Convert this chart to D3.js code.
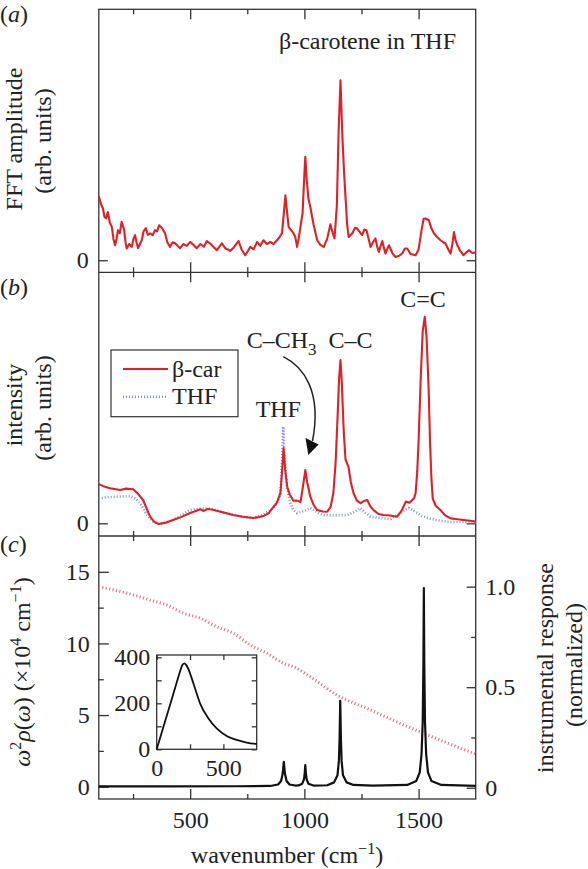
<!DOCTYPE html>
<html><head><meta charset="utf-8">
<script src="https://cdn.jsdelivr.net/npm/d3@7"></script>
<style>html,body{margin:0;padding:0;background:#fff;} svg{display:block;}</style>
</head><body><svg id="c" width="588" height="869"></svg>
<script>
// ---------- DATA ----------
const xMajorTicks = [500, 1000, 1500];
const xMinorTicks = [250, 750, 1250];
// (a) FFT amplitude [wavenumber, amplitude]
const fftAmplitude = [[100,0.356],[110,0.31],[118,0.289],[125,0.24],[132,0.233],[140,0.267],[148,0.21],[157,0.185],[164,0.12],[171,0.083],[178,0.12],[184,0.167],[192,0.15],[200,0.213],[206,0.19],[211,0.167],[217,0.1],[222,0.065],[233,0.09],[244,0.074],[252,0.12],[259,0.139],[265,0.1],[272,0.067],[280,0.09],[288,0.111],[296,0.16],[306,0.178],[315,0.14],[325,0.15],[336,0.14],[346,0.167],[355,0.16],[364,0.194],[376,0.18],[390,0.15],[400,0.1],[412,0.074],[423,0.1],[434,0.094],[445,0.08],[456,0.067],[470,0.09],[485,0.08],[500,0.102],[515,0.085],[529,0.067],[545,0.09],[560,0.075],[573,0.107],[590,0.09],[605,0.07],[617,0.056],[628,0.075],[639,0.094],[655,0.065],[665,0.06],[675,0.052],[690,0.07],[712,0.107],[725,0.06],[741,0.028],[752,0.05],[763,0.074],[778,0.06],[793,0.102],[807,0.08],[821,0.111],[836,0.09],[851,0.102],[865,0.09],[880,0.111],[892,0.13],[902,0.15],[910,0.26],[917,0.361],[924,0.27],[931,0.185],[940,0.17],[952,0.15],[960,0.13],[968,0.074],[975,0.12],[982,0.178],[992,0.26],[1000,0.48],[1004,0.574],[1010,0.45],[1018,0.34],[1026,0.296],[1040,0.2],[1056,0.111],[1070,0.085],[1085,0.074],[1100,0.12],[1114,0.2],[1122,0.16],[1132,0.121],[1142,0.3],[1150,0.72],[1158,1.0],[1166,0.7],[1174,0.48],[1180,0.352],[1187,0.2],[1194,0.129],[1210,0.15],[1222,0.18],[1231,0.176],[1240,0.16],[1253,0.139],[1262,0.17],[1272,0.167],[1281,0.12],[1290,0.074],[1300,0.1],[1311,0.121],[1318,0.08],[1326,0.046],[1334,0.08],[1341,0.107],[1348,0.07],[1355,0.037],[1362,0.06],[1370,0.083],[1385,0.04],[1399,0.018],[1415,0.025],[1430,0.04],[1440,0.065],[1450,0.065],[1465,0.035],[1487,0.028],[1500,0.06],[1512,0.16],[1522,0.23],[1530,0.232],[1545,0.222],[1555,0.18],[1567,0.15],[1580,0.13],[1596,0.111],[1608,0.1],[1618,0.093],[1630,0.06],[1640,0.037],[1648,0.09],[1655,0.157],[1662,0.11],[1670,0.083],[1683,0.05],[1696,0.028],[1710,0.045],[1721,0.056],[1735,0.04],[1750,0.043]];
// (b) Raman intensity of beta-carotene
const betaCar = [[100,0.19],[120,0.18],[149,0.17],[175,0.165],[193,0.161],[220,0.168],[250,0.165],[270,0.145],[294,0.113],[310,0.07],[325,0.032],[342,0.008],[360,-0.003],[390,0.002],[425,0.016],[460,0.03],[500,0.05],[522,0.058],[544,0.068],[560,0.06],[575,0.069],[600,0.066],[620,0.06],[655,0.05],[689,0.04],[730,0.032],[776,0.026],[800,0.03],[820,0.035],[845,0.05],[864,0.079],[880,0.1],[895,0.147],[903,0.26],[909,0.364],[916,0.26],[925,0.176],[936,0.14],[952,0.109],[968,0.11],[983,0.103],[994,0.18],[1004,0.258],[1012,0.2],[1026,0.129],[1040,0.09],[1056,0.064],[1080,0.057],[1100,0.056],[1115,0.08],[1127,0.147],[1137,0.3],[1146,0.534],[1152,0.7],[1158,0.791],[1164,0.68],[1172,0.45],[1180,0.31],[1187,0.29],[1193,0.274],[1203,0.2],[1215,0.147],[1230,0.11],[1246,0.098],[1260,0.108],[1275,0.113],[1290,0.08],[1303,0.064],[1325,0.045],[1346,0.04],[1375,0.038],[1406,0.032],[1425,0.06],[1444,0.105],[1460,0.1],[1472,0.113],[1480,0.12],[1487,0.147],[1494,0.25],[1500,0.4],[1509,0.694],[1518,0.93],[1527,1.0],[1535,0.9],[1544,0.65],[1550,0.4],[1556,0.22],[1562,0.12],[1575,0.085],[1596,0.064],[1615,0.04],[1640,0.024],[1670,0.02],[1697,0.016],[1725,0.012],[1750,0.008]];
// (b) Raman intensity of THF solvent
const thf = [[100,0.121],[130,0.125],[160,0.128],[200,0.13],[237,0.132],[260,0.12],[281,0.098],[296,0.07],[311,0.04],[335,0.01],[360,-0.003],[390,0.003],[425,0.016],[460,0.04],[500,0.064],[540,0.07],[575,0.074],[620,0.062],[655,0.05],[689,0.04],[730,0.032],[776,0.026],[815,0.04],[851,0.064],[875,0.09],[895,0.137],[902,0.3],[908,0.468],[914,0.3],[925,0.161],[938,0.1],[952,0.064],[968,0.05],[1000,0.06],[1026,0.074],[1055,0.055],[1083,0.04],[1130,0.038],[1187,0.04],[1220,0.055],[1246,0.074],[1268,0.05],[1290,0.032],[1335,0.025],[1378,0.021],[1420,0.05],[1457,0.074],[1478,0.06],[1495,0.05],[1515,0.035],[1539,0.026],[1580,0.015],[1626,0.008],[1690,0.005],[1750,0.004]];
// (c) spectral density (x10^4 cm^-1)
const spectralDensity = [[100,0.02],[400,0.02],[700,0.03],[850,0.05],[885,0.15],[898,0.4],[905,0.9],[910,1.74],[915,0.9],[922,0.4],[935,0.15],[960,0.08],[975,0.09],[990,0.2],[998,0.5],[1001,0.85],[1004,1.5],[1007,0.85],[1010,0.5],[1018,0.2],[1040,0.08],[1100,0.1],[1130,0.3],[1145,0.8],[1151,1.8],[1154,3.3],[1157,6.0],[1160,3.3],[1163,1.8],[1169,0.8],[1185,0.3],[1215,0.12],[1300,0.08],[1450,0.12],[1490,0.4],[1505,1.0],[1513,2.3],[1518,4.5],[1521,8.5],[1523,13.87],[1525,8.5],[1528,4.5],[1533,2.3],[1541,1.0],[1556,0.4],[1600,0.12],[1750,0.05]];
// (c) instrumental response (normalized)
const instrumentResponse = [[100,1.0],[251,0.959],[325,0.933],[398,0.909],[471,0.868],[544,0.843],[617,0.80],[690,0.768],[763,0.71],[836,0.669],[909,0.619],[953,0.602],[1026,0.552],[1143,0.461],[1290,0.387],[1436,0.312],[1524,0.27],[1611,0.229],[1743,0.171],[1750,0.168]];
// (c) inset curve
const insetCurve = [[0,0],[50,97],[100,193],[150,290],[175,338],[190,364],[207,374],[222,366],[237,350],[275,287],[325,200],[387,135],[450,91],[525,58],[600,41],[675,29],[750,23]];
const cLeftMajor = [0,5,10,15], cLeftMinor = [2.5,7.5,12.5];
const cRightMajor = [0,0.5,1.0], cRightMinor = [0.25,0.75];
const insetXTicks = [0,250,500], insetXLabels=[0,500];
const insetYTicks = [0,100,200,300,400], insetYLabels=[0,200,400];

// ---------- FONT PICK ----------
function pickFont(cands){
  const probe = d3.select("body").append("svg").attr("width",10).attr("height",10).style("position","absolute").style("left","-9999px");
  const s="Wavenumber THF amplitude 0123456789";
  const w = f=>{ const t=probe.append("text").attr("font-size",40).style("font-family",f).text(s); const v=t.node().getComputedTextLength(); t.remove(); return v; };
  const baseMono=w("monospace"), baseSans=w("sans-serif");
  let found=null;
  for(const c of cands){ if(w(`"${c}",monospace`)!==baseMono && w(`"${c}",sans-serif`)!==baseSans){found=c;break;} }
  probe.remove();
  return found;
}
const serifFont = pickFont(["Liberation Serif","Tinos","Times New Roman","Times","Nimbus Roman","DejaVu Serif","Noto Serif","FreeSerif"]);
const FONT = serifFont ? `"${serifFont}", serif` : "serif";

// ---------- LAYOUT ----------
const L=98.8, R=475.7, T=9.3, AB=272.3, BC=536, B=799;
const FS=24, AX="#333";
const svg = d3.select("#c").style("font-family",FONT);
const x = d3.scaleLinear([100,1750],[L,R]);
const ya = d3.scaleLinear([-0.067,1.394],[AB,T]);
const yb = d3.scaleLinear([-0.0615,1.216],[BC,AB]);
const yc = d3.scaleLinear([-0.86,17.5],[B,BC]);
const yr = d3.scaleLinear([-0.056,1.252],[B,BC]);

function styleAxis(g){
  g.attr("font-family",null).attr("font-size",null);
  g.select(".domain").remove();
  g.selectAll("line").attr("stroke",AX).attr("stroke-width",1.3);
  g.selectAll("text").attr("font-size",FS).style("font-family",FONT).attr("fill","#222");
}
function xTicks(yPos, dir, withLabels){
  const mk = dir==="down" ? d3.axisTop : d3.axisBottom;
  styleAxis(svg.append("g").attr("transform",`translate(0,${yPos})`)
    .call(mk(x).tickValues(xMajorTicks).tickSize(-10).tickPadding(11.7).tickFormat(withLabels? d3.format("d"):"")));
  styleAxis(svg.append("g").attr("transform",`translate(0,${yPos})`)
    .call(mk(x).tickValues(xMinorTicks).tickSize(-5).tickFormat("")));
}
svg.append("rect").attr("x",L).attr("y",T).attr("width",R-L).attr("height",B-T).attr("fill","none").attr("stroke",AX).attr("stroke-width",1.3);
[AB,BC].forEach(v=>svg.append("line").attr("x1",L).attr("x2",R).attr("y1",v).attr("y2",v).attr("stroke",AX).attr("stroke-width",1.3));
xTicks(T,"down",false); xTicks(AB,"up",false);
xTicks(AB,"down",false); xTicks(BC,"up",false);
xTicks(BC,"down",false); xTicks(B,"up",true);

[ya,yb].forEach(s=>{
  styleAxis(svg.append("g").attr("transform",`translate(${L},0)`).call(d3.axisLeft(s).tickValues([0]).tickSize(-9).tickPadding(10).tickFormat(d3.format("d"))));
  styleAxis(svg.append("g").attr("transform",`translate(${R},0)`).call(d3.axisRight(s).tickValues([0]).tickSize(-9).tickFormat("")));
});
styleAxis(svg.append("g").attr("transform",`translate(${L},0)`).call(d3.axisLeft(yc).tickValues(cLeftMajor).tickSize(-10).tickPadding(9)));
styleAxis(svg.append("g").attr("transform",`translate(${L},0)`).call(d3.axisLeft(yc).tickValues(cLeftMinor).tickSize(-5).tickFormat("")));
styleAxis(svg.append("g").attr("transform",`translate(${R},0)`).call(d3.axisRight(yr).tickValues(cRightMajor).tickSize(-9).tickPadding(9.5).tickFormat(d=>d===0?"0":d3.format(".1f")(d))));
styleAxis(svg.append("g").attr("transform",`translate(${R},0)`).call(d3.axisRight(yr).tickValues(cRightMinor).tickSize(-4.5).tickFormat("")));

// ---------- LINES ----------
const RED="#e31f26", BLUE="#8593cc";
function line(ys, curve){ const l=d3.line().x(d=>x(d[0])).y(d=>ys(d[1])); if(curve) l.curve(curve); return l; }
svg.append("path").datum(fftAmplitude).attr("d",line(ya)).attr("fill","none").attr("stroke",RED).attr("stroke-width",2.1).attr("stroke-linejoin","round");
svg.append("path").datum(thf).attr("d",line(yb)).attr("fill","none").attr("stroke",BLUE).attr("stroke-width",2.6).attr("stroke-dasharray","1,2");
svg.append("path").datum(betaCar).attr("d",line(yb)).attr("fill","none").attr("stroke",RED).attr("stroke-width",2.1).attr("stroke-linejoin","round");
svg.append("path").datum(instrumentResponse).attr("d",d3.line().x(d=>x(d[0])).y(d=>yr(d[1])).curve(d3.curveMonotoneX)).attr("fill","none").attr("stroke","#e07a87").attr("stroke-width",3).attr("stroke-dasharray","1.2,2.3");
svg.append("path").datum(spectralDensity).attr("d",line(yc)).attr("fill","none").attr("stroke","#111").attr("stroke-width",2.2).attr("stroke-linejoin","round");

// ---------- INSET ----------
const iL=156.7,iR=256.7,iT=655,iB=749.3;
const xi=d3.scaleLinear([0,750],[iL,iR]);
const yi=d3.scaleLinear([0,410],[iB,iT]);
svg.append("rect").attr("x",iL).attr("y",iT).attr("width",iR-iL).attr("height",iB-iT).attr("fill","#fff").attr("stroke",AX).attr("stroke-width",1.3);
styleAxis(svg.append("g").attr("transform",`translate(0,${iB})`).call(d3.axisBottom(xi).tickValues(insetXTicks).tickSize(-5).tickPadding(9.7).tickFormat(d=>insetXLabels.includes(d)?d:"")));
styleAxis(svg.append("g").attr("transform",`translate(0,${iT})`).call(d3.axisTop(xi).tickValues(insetXTicks).tickSize(-5).tickFormat("")));
styleAxis(svg.append("g").attr("transform",`translate(${iL},0)`).call(d3.axisLeft(yi).tickValues(insetYTicks).tickSize(-5).tickPadding(6.5).tickFormat(d=>insetYLabels.includes(d)?d:"")));
styleAxis(svg.append("g").attr("transform",`translate(${iR},0)`).call(d3.axisRight(yi).tickValues(insetYTicks).tickSize(-5).tickFormat("")));
svg.append("path").datum(insetCurve).attr("d",d3.line().x(d=>xi(d[0])).y(d=>yi(d[1])).curve(d3.curveMonotoneX)).attr("fill","none").attr("stroke","#111").attr("stroke-width",1.8);

// ---------- TEXT ----------
function txt(xp,yp,s,opts={}){
  const t=svg.append("text").attr("x",xp).attr("y",yp).attr("font-size",opts.fs||FS).attr("text-anchor",opts.anchor||"start").attr("fill","#222");
  if(opts.rot) t.attr("transform",`rotate(-90,${xp},${yp})`);
  t.text(s); return t;
}
function panelLabel(xp,yp,letter){
  const t=svg.append("text").attr("x",xp).attr("y",yp).attr("font-size",FS).attr("fill","#222");
  t.append("tspan").text("(");
  t.append("tspan").attr("font-style","italic").text(letter);
  t.append("tspan").text(")");
}
panelLabel(0,22,"a"); panelLabel(0,295,"b"); panelLabel(0,552,"c");
txt(456,49,"β-carotene in THF",{anchor:"end"});
txt(22,139,"FFT amplitude",{anchor:"middle",rot:true});
txt(51,141,"(arb. units)",{anchor:"middle",rot:true});
txt(21.7,405,"intensity",{anchor:"middle",rot:true});
txt(51,408,"(arb. units)",{anchor:"middle",rot:true});
txt(553,668,"instrumental response",{anchor:"middle",rot:true});
txt(581.7,665,"(normalized)",{anchor:"middle",rot:true});
{
  const t=svg.append("text").attr("x",30).attr("y",672).attr("font-size",FS).attr("text-anchor","middle").attr("fill","#222").attr("transform","rotate(-90,30,672)");
  t.append("tspan").attr("font-style","italic").text("ω");
  t.append("tspan").attr("font-size",16).attr("dy",-9).text("2");
  t.append("tspan").attr("font-style","italic").attr("dy",9).text("ρ");
  t.append("tspan").text("(");
  t.append("tspan").attr("font-style","italic").text("ω");
  t.append("tspan").text(") (×10");
  t.append("tspan").attr("font-size",16).attr("dy",-9).text("4");
  t.append("tspan").attr("dy",9).text(" cm");
  t.append("tspan").attr("font-size",16).attr("dy",-9).text("−1");
  t.append("tspan").attr("dy",9).text(")");
}
{
  const t=svg.append("text").attr("x",287).attr("y",863).attr("font-size",FS).attr("text-anchor","middle").attr("fill","#222");
  t.append("tspan").text("wavenumber (cm");
  t.append("tspan").attr("font-size",16).attr("dy",-9).text("−1");
  t.append("tspan").attr("dy",9).text(")");
}
txt(423,307,"C=C",{anchor:"middle"});
txt(350.5,348.3,"C–C",{anchor:"middle"});
{
  const t=svg.append("text").attr("x",246.7).attr("y",348.3).attr("font-size",FS).attr("fill","#222");
  t.append("tspan").text("C–CH");
  t.append("tspan").attr("font-size",17).attr("dy",7).text("3");
}
txt(278.3,416.7,"THF",{anchor:"middle"});
svg.append("path").attr("d","M283.3,356.7 C304,367 322,392 312.5,441").attr("fill","none").attr("stroke","#222").attr("stroke-width",1.5);
svg.append("path").attr("d","M308.3,455 L305.5,438 L318.6,444.5 Z").attr("fill","#111");
svg.append("rect").attr("x",111).attr("y",350).attr("width",127).attr("height",66.7).attr("fill","#fff").attr("stroke",AX).attr("stroke-width",1.2);
svg.append("line").attr("x1",123).attr("x2",168).attr("y1",369).attr("y2",369).attr("stroke",RED).attr("stroke-width",2.1);
svg.append("line").attr("x1",123).attr("x2",168).attr("y1",396.7).attr("y2",396.7).attr("stroke",BLUE).attr("stroke-width",2.6).attr("stroke-dasharray","1,2");
txt(172,377,"β-car");
txt(172,404,"THF");
</script></body></html>
